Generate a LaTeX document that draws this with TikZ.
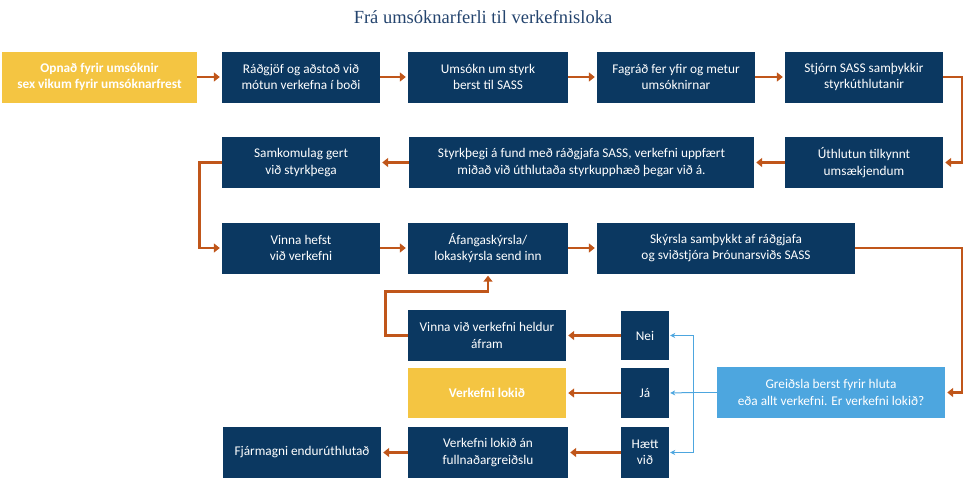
\documentclass[tikz,border=0pt]{standalone}
\usepackage{fontspec}
\setmainfont{Carlito}
\newfontfamily\titlefont{Liberation Serif}
\usepackage{tikz}
\usetikzlibrary{calc}
\usetikzlibrary{arrows.meta}
\definecolor{navy}{RGB}{11,56,97}
\definecolor{gold}{RGB}{244,197,66}
\definecolor{rust}{RGB}{192,86,26}
\definecolor{sky}{RGB}{77,166,223}
\definecolor{titleblue}{RGB}{36,68,110}
\tikzstyle{every node}=[font=\fontsize{13.3}{16.5}\selectfont]
\tikzstyle{navybox}=[fill=navy, text=white, align=center, minimum width=158, minimum height=51, inner sep=0pt]
\tikzstyle{goldbox}=[navybox, fill=gold, font=\fontsize{13.3}{16.5}\selectfont\bfseries]
\tikzstyle{skybox}=[navybox, fill=sky]
\tikzstyle{flow}=[rust, line width=2.8pt, -{Triangle[length=6pt,width=9pt]}, shorten >=2pt]
\tikzstyle{choice}=[sky, line width=1pt, -{Stealth[length=5pt,width=5pt]}, shorten >=1pt]

\begin{document}
\begin{tikzpicture}[x=1pt,y=-1pt]
            \useasboundingbox (0,0) rectangle (968,480);
            \def\rowA{77}
            \def\rowB{162.5}
            \def\rowC{248}

            \node[font=\titlefont\fontsize{18.5}{22}\selectfont, text=titleblue] (title) at (483,17) {Frá umsóknarferli til verkefnisloka};

            % first row
            \node[goldbox, minimum width=195] (opnad) at (99.5,\rowA) {Opnað fyrir umsóknir\\sex vikum fyrir umsóknarfrest};
            \node[navybox] (radgjof) at (301,\rowA) {Ráðgjöf og aðstoð við\\mótun verkefna í boði};
            \node[navybox, minimum width=160] (umsokn) at (488,\rowA) {Umsókn um styrk\\berst til SASS};
            \node[navybox] (fagrad) at (676,\rowA) {Fagráð fer yfir og metur\\umsóknirnar};
            \node[navybox] (stjorn) at (864,\rowA) {Stjórn SASS samþykkir\\styrkúthlutanir};

            % second row
            \node[navybox] (uthlutun) at (864,\rowB) {Úthlutun tilkynnt\\umsækjendum};
            \node[navybox, minimum width=345] (fundur) at (581.5,\rowB) {Styrkþegi á fund með ráðgjafa SASS, verkefni uppfært\\miðað við úthlutaða styrkupphæð þegar við á.};
            \node[navybox] (samkomulag) at (301,\rowB) {Samkomulag gert\\við styrkþega};

            % third row
            \node[navybox] (vinnahefst) at (301,\rowC) {Vinna hefst\\við verkefni};
            \node[navybox, minimum width=160] (afanga) at (488,\rowC) {Áfangaskýrsla/\\lokaskýrsla send inn};
            \node[navybox, minimum width=258] (skyrsla) at (726,\rowC) {Skýrsla samþykkt af ráðgjafa\\og sviðstjóra Þróunarsviðs SASS};

            % outcome of payment
            \node[skybox, minimum width=228] (greidsla) at (831,392.5) {Greiðsla berst fyrir hluta\\eða allt verkefni. Er verkefni lokið?};
            \node[navybox, minimum width=48, minimum height=49] (nei) at (645,335.5) {Nei};
            \node[navybox, minimum width=48, minimum height=50] (ja) at (645,393) {Já};
            \node[navybox, minimum width=48] (haett) at (645,452.5) {Hætt\\við};
            \node[navybox] (heldur) at (487,335.5) {Vinna við verkefni heldur\\áfram};
            \node[goldbox, minimum height=50] (lokid) at (487,393) {Verkefni lokið};
            \node[navybox, minimum width=160] (anfull) at (488,452.5) {Verkefni lokið án\\fullnaðargreiðslu};
            \node[navybox] (fjarmagn) at (302,452.5) {Fjármagni endurúthlutað};

            \coordinate (rail) at (962,0);
            \coordinate (split) at (693,392.5);

            \draw[flow] (opnad.east) -- (radgjof.west);
            \draw[flow] (radgjof.east) -- (umsokn.west);
            \draw[flow] (umsokn.east) -- (fagrad.west);
            \draw[flow] (fagrad.east) -- (stjorn.west);
            \draw[flow] (stjorn.east) -- (stjorn.east -| rail) |- (uthlutun.east);
            \draw[flow] (uthlutun.west) -- (fundur.east);
            \draw[flow] (fundur.west) -- (samkomulag.east);
            \draw[flow] (samkomulag.west) -- ++(-22,0) |- (vinnahefst.west);
            \draw[flow] (vinnahefst.east) -- (afanga.west);
            \draw[flow] (afanga.east) -- (skyrsla.west);
            \draw[flow] (skyrsla.east) -- (skyrsla.east -| rail) |- (greidsla.east);

            \draw[choice, -] (greidsla.west) -- (split);
            \draw[choice] (split) |- (nei.east);
            \draw[choice] (split) -- (ja.east);
            \draw[choice] (split) |- (haett.east);

            \draw[flow] (nei.west) -- (heldur.east);
            \draw[flow] (ja.west) -- (lokid.east);
            \draw[flow] (haett.west) -- (anfull.east);
            \draw[flow] (anfull.west) -- (fjarmagn.east);
            \draw[flow] (heldur.west) -- ++(-22,0) |- ($(afanga.south)+(0,18)$) -- (afanga.south);
        \end{tikzpicture}
\end{document}
